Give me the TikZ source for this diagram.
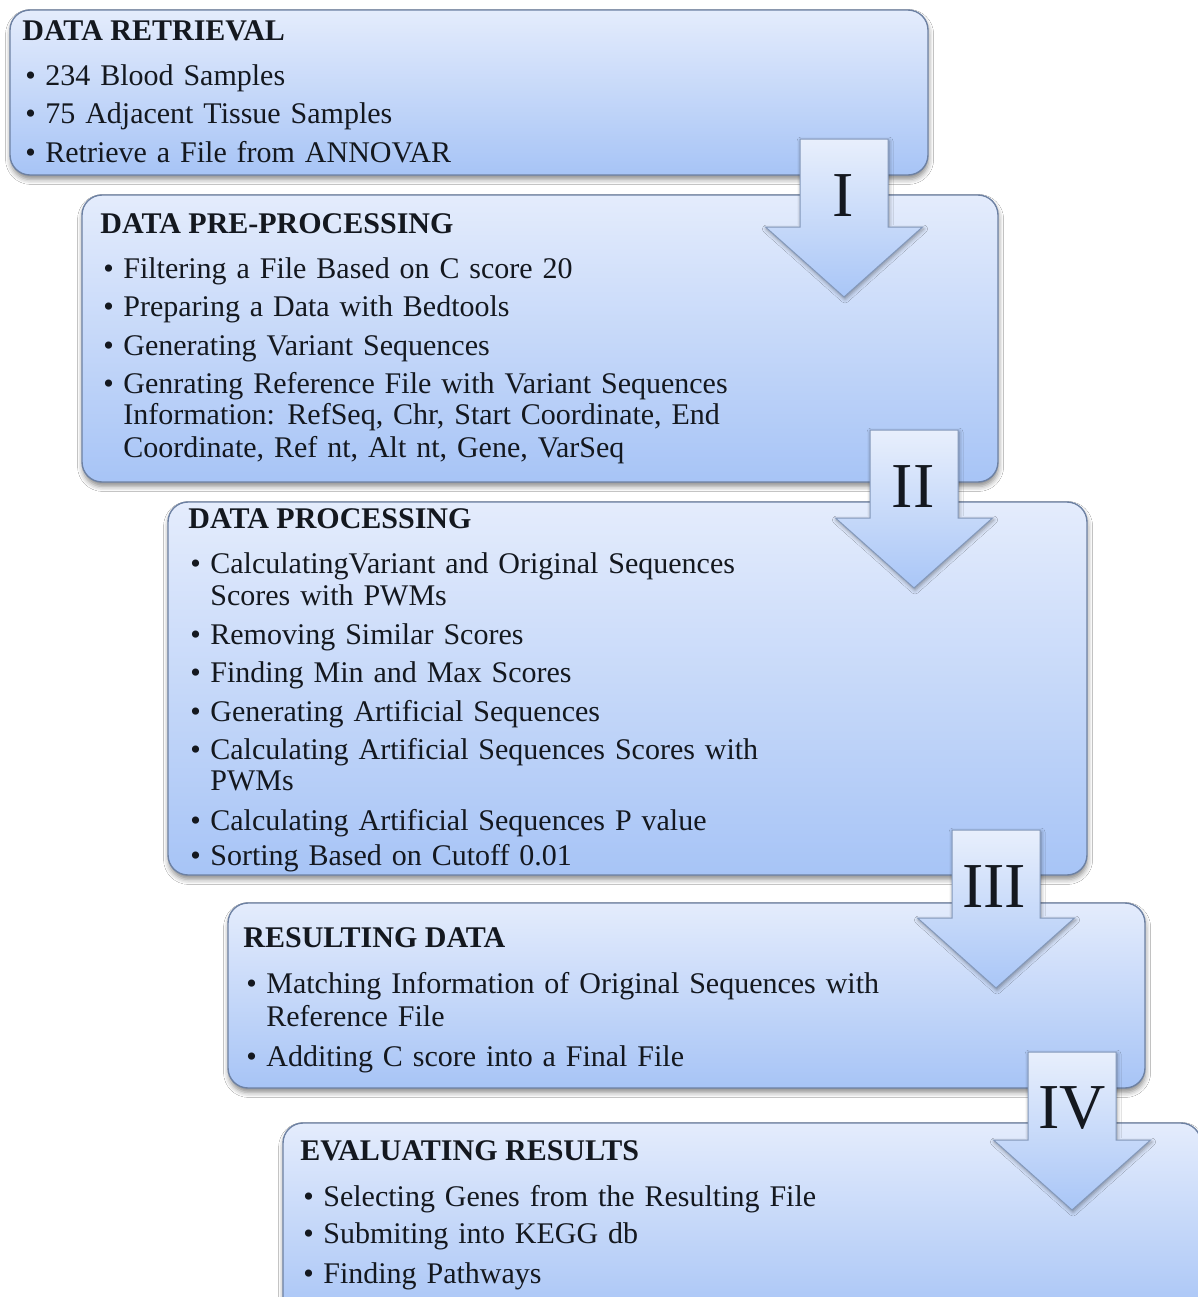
\documentclass[tikz,border=0pt]{standalone}
\usepackage{fontspec}
\setmainfont{Liberation Serif}
\usetikzlibrary{shadows,shadows.blur}

\definecolor{boxtop}{HTML}{E4ECFC}
\definecolor{boxbot}{HTML}{A7C4F6}
\definecolor{boxedge}{HTML}{6D81A3}
\definecolor{arrtop}{HTML}{E8EFFC}
\definecolor{arrbot}{HTML}{A9C6F7}
\definecolor{arredge}{HTML}{8398BA}
\definecolor{ink}{HTML}{14181F}

% bullet followed by a fixed gap before the item text
\newcommand{\blt}{\makebox[10pt][l]{\textbullet}}
% item text face with slightly open word spacing
\newcommand{\itemface}{\fontsize{15}{18}\selectfont\spaceskip=0.33em plus 0.1em\relax}

% downward block arrow: #1 centre x, #2 top y (pixel units)
\newcommand{\stagearrow}[2]{%
  \path[flow] ({#1-44},#2) -- ({#1+44},#2) -- ({#1+44},{#2+88}) -- ({#1+78.5},{#2+88})
    -- (#1,{#2+158}) -- ({#1-78.5},{#2+88}) -- ({#1-44},{#2+88}) -- cycle;}

\tikzset{
  stage/.style={draw=boxedge, line width=0.7pt, rounded corners=10pt,
    top color=boxtop, bottom color=boxbot, anchor=north west,
    inner sep=0pt, outer sep=0pt,
    blur shadow={shadow xshift=0.3pt, shadow yshift=-2.2pt,
      shadow blur radius=2.5pt, shadow opacity=45}},
  flow/.style={draw=arredge, line width=0.5pt, top color=arrtop,
    bottom color=arrbot, line join=miter,
    blur shadow={shadow xshift=0.5pt, shadow yshift=-1pt,
      shadow blur radius=2pt, shadow opacity=40}},
  ttl/.style={anchor=base west, inner sep=0pt,
    font=\fontsize{15}{18}\selectfont\bfseries, text=ink},
  itm/.style={anchor=base west, inner sep=0pt, font=\itemface, text=ink},
  numeral/.style={inner sep=0pt, font=\fontsize{32}{38}\selectfont, text=ink},
}

\begin{document}
\begin{tikzpicture}[x=0.5pt, y=-0.5pt]
\useasboundingbox (0,0) rectangle (1198,1297);
\fill[white] (0,0) rectangle (1198,1297);
\clip (0,0) rectangle (1198,1297);

% stage panels
\node[stage, minimum width=459pt, minimum height=82.5pt]  (b1) at (10,10) {};
\node[stage, minimum width=458pt, minimum height=143.5pt] (b2) at (82,195) {};
\node[stage, minimum width=459.5pt, minimum height=186.5pt] (b3) at (168,502) {};
\node[stage, minimum width=458.5pt, minimum height=92.5pt] (b4) at (228,903) {};
\node[stage, minimum width=459pt, minimum height=100pt]   (b5) at (283,1123) {};

% step arrows between panels
\stagearrow{844}{139}
\stagearrow{914}{430}
\stagearrow{996}{830}
\stagearrow{1072}{1052}
\node[numeral] (n1) at (843,196) {I};
\node[numeral] (n2) at (913,487) {II};
\node[numeral] (n3) at (994,887) {III};
\node[numeral] (n4) at (1072,1108) {IV};

% data retrieval
\node[ttl] (t1) at (22,40) {DATA RETRIEVAL};
\node[itm] (t1a) at (25,85) {\blt 234 Blood Samples};
\node[itm] (t1b) at (25,123) {\blt 75 Adjacent Tissue Samples};
\node[itm] (t1c) at (25,162) {\blt Retrieve a File from ANNOVAR};

% data pre-processing
\node[ttl] (t2) at (100,233) {DATA PRE-PROCESSING};
\node[itm] (t2a) at (103,278) {\blt Filtering a File Based on C score 20};
\node[itm] (t2b) at (103,316) {\blt Preparing a Data with Bedtools};
\node[itm] (t2c) at (103,355) {\blt Generating Variant Sequences};
\node[itm] (t2d) at (103,393) {\blt Genrating Reference File with Variant Sequences};
\node[itm] (t2e) at (123,424) {Information: RefSeq, Chr, Start Coordinate, End};
\node[itm] (t2f) at (123,457) {Coordinate, Ref nt, Alt nt, Gene, VarSeq};

% data processing
\node[ttl] (t3) at (188,528) {DATA PROCESSING};
\node[itm] (t3a) at (190,573) {\blt CalculatingVariant and Original Sequences};
\node[itm] (t3b) at (210,605) {Scores with PWMs};
\node[itm] (t3c) at (190,644) {\blt Removing Similar Scores};
\node[itm] (t3d) at (190,682) {\blt Finding Min and Max Scores};
\node[itm] (t3e) at (190,721) {\blt Generating Artificial Sequences};
\node[itm] (t3f) at (190,759) {\blt Calculating Artificial Sequences Scores with};
\node[itm] (t3g) at (210,790) {PWMs};
\node[itm] (t3h) at (190,830) {\blt Calculating Artificial Sequences P value};
\node[itm] (t3i) at (190,865) {\blt Sorting Based on Cutoff 0.01};

% resulting data
\node[ttl] (t4) at (243,947) {RESULTING DATA};
\node[itm] (t4a) at (246,993) {\blt Matching Information of Original Sequences with};
\node[itm] (t4b) at (266,1026) {Reference File};
\node[itm] (t4c) at (246,1066) {\blt Additing C score into a Final File};

% evaluating results
\node[ttl] (t5) at (300,1160) {EVALUATING RESULTS};
\node[itm] (t5a) at (303,1206) {\blt Selecting Genes from the Resulting File};
\node[itm] (t5b) at (303,1243) {\blt Submiting into KEGG db};
\node[itm] (t5c) at (303,1283) {\blt Finding Pathways};
\end{tikzpicture}
\end{document}
